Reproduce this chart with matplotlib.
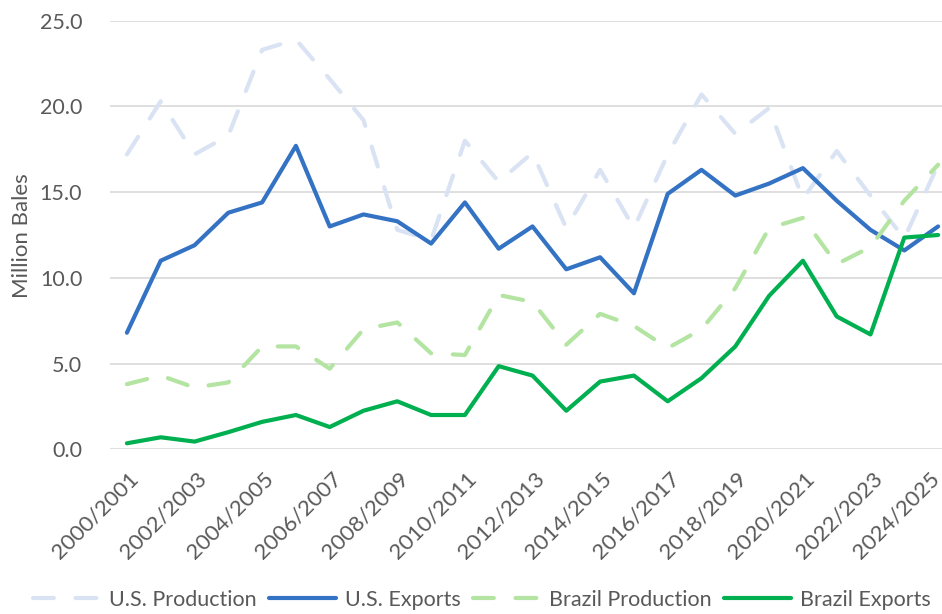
import matplotlib
matplotlib.use("Agg")
import matplotlib.pyplot as plt
import matplotlib.transforms as mtransforms

plt.rcParams["font.family"] = ["Lato", "DejaVu Sans"]

# marketing years 2000/2001 .. 2024/2025
years = [f"{y}/{y + 1}" for y in range(2000, 2025)]

us_production = [17.2, 20.3, 17.2, 18.3, 23.3, 23.9, 21.6, 19.2, 12.8, 12.2,
                 18.0, 15.6, 17.3, 12.9, 16.3, 12.9, 17.2, 20.7, 18.4, 19.9,
                 14.6, 17.4, 14.8, 12.3, 16.6]
us_exports = [6.8, 11.0, 11.9, 13.8, 14.4, 17.7, 13.0, 13.7, 13.3, 12.0,
              14.4, 11.7, 13.0, 10.5, 11.2, 9.1, 14.9, 16.3, 14.8, 15.5,
              16.4, 14.5, 12.8, 11.6, 13.0]
brazil_production = [3.8, 4.3, 3.6, 3.9, 6.0, 6.0, 4.7, 7.0, 7.4, 5.6,
                     5.5, 9.0, 8.6, 6.1, 7.9, 7.2, 5.9, 7.0, 9.4, 12.9,
                     13.5, 10.8, 11.8, 14.5, 16.6]
brazil_exports = [0.35, 0.7, 0.45, 1.0, 1.6, 2.0, 1.3, 2.25, 2.8, 2.0,
                  2.0, 4.85, 4.3, 2.25, 3.95, 4.3, 2.8, 4.15, 6.0, 8.95,
                  11.0, 7.75, 6.7, 12.35, 12.5]

text_color = "#595959"
fs = 15.5

fig = plt.figure(figsize=(9.42, 6.14), dpi=100)
# plot area runs slightly past the right edge, like the cropped original
ax = fig.add_axes([110 / 942, 1 - 449.3 / 614, 845 / 942, 428.6 / 614])

x = list(range(len(years)))
lw = 3.0
dash = (5.0, 5.2)

ax.plot(x, us_production, color="#DAE3F3", lw=lw, dashes=dash,
        dash_capstyle="round", label="U.S. Production")
ax.plot(x, us_exports, color="#3472C4", lw=lw, solid_capstyle="round",
        solid_joinstyle="round", label="U.S. Exports")
ax.plot(x, brazil_production, color="#B4E4A2", lw=lw, dashes=dash,
        dash_capstyle="round", label="Brazil Production")
ax.plot(x, brazil_exports, color="#00B050", lw=lw, solid_capstyle="round",
        solid_joinstyle="round", label="Brazil Exports")

ax.set_xlim(-0.5, len(years) - 0.5)
ax.set_ylim(0, 25)
ax.set_yticks([0, 5, 10, 15, 20, 25])
ax.set_yticklabels([f"{v:.1f}" for v in [0, 5, 10, 15, 20, 25]])
ax.set_xticks(x[::2])
ax.set_xticklabels([])

# rotated category labels, drawn as texts so the last one can be nudged in
xt = ax.get_xaxis_transform()
for i in x[::2]:
    dx = 1.5 if i < x[-1] else -9
    off = mtransforms.ScaledTranslation(dx / 100, -19 / 100, fig.dpi_scale_trans)
    ax.text(i, 0, years[i], transform=xt + off, rotation=45, ha="right",
            va="top", rotation_mode="anchor", fontsize=16, color=text_color,
            clip_on=False)

ax.grid(axis="y", color="#D9D9D9", lw=1.2)
ax.set_axisbelow(True)
for s in ax.spines.values():
    s.set_visible(False)
ax.tick_params(axis="both", length=0, colors=text_color)
ax.tick_params(axis="y", pad=20, labelsize=fs)

fig.text(22 / 942, 1 - 236 / 614, "Million Bales", rotation=90, ha="center",
         va="center", fontsize=16, color=text_color)

fig.legend(loc="center", bbox_to_anchor=(482 / 942, 1 - 600 / 614), ncol=4,
           frameon=False, fontsize=fs, handlelength=3.1, handletextpad=0.45,
           columnspacing=0.55, labelcolor=text_color)

fig.savefig("out.png", dpi=100)
